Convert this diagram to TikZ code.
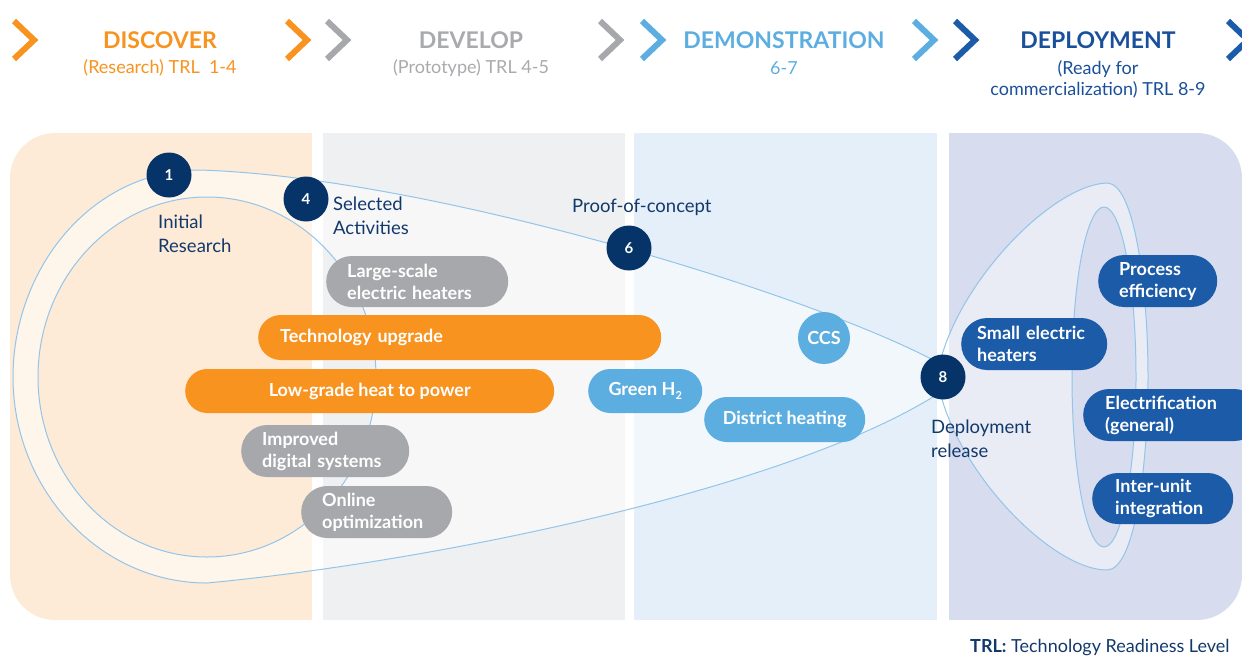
\documentclass[tikz,border=0pt]{standalone}
\usepackage{fontspec}
\setmainfont{Lato}
\definecolor{orangeC}{HTML}{F7931E}
\definecolor{greyC}{HTML}{A7A8AB}
\definecolor{greyT}{HTML}{A9AAAD}
\definecolor{lblueC}{HTML}{5DAEE0}
\definecolor{dblueC}{HTML}{1B5BA8}
\definecolor{dblueT}{HTML}{1A509A}
\definecolor{navyC}{HTML}{063468}
\definecolor{navyT}{HTML}{12396B}
\definecolor{peachC}{HTML}{FDEBD7}
\definecolor{panelG}{HTML}{EFF0F2}
\definecolor{panelB}{HTML}{E5EFF9}
\definecolor{panelL}{HTML}{D7DCEE}
\definecolor{lineC}{HTML}{93C5EA}
\begin{document}
\begin{tikzpicture}[x=1pt,y=-1pt,
  chev/.style={line width=6pt, miter limit=10},
  head/.style={font=\bfseries\fontsize{23}{26}\selectfont, inner sep=0pt},
  sub/.style={font=\fontsize{18}{21}\selectfont, align=center, inner sep=0pt},
  numc/.style={circle, fill=navyC, text=white, minimum size=45pt, inner sep=0pt, font=\bfseries\fontsize{15}{15}\selectfont},
  lab/.style={text=navyT, font=\fontsize{18.5}{24}\selectfont, align=left, anchor=west, inner sep=0pt},
  pillbox/.style={text=white, font=\bfseries\fontsize{18}{22}\selectfont, inner ysep=0pt, anchor=west},
  loopline/.style={draw=lineC, line width=1pt}
]
\useasboundingbox (0,0) rectangle (1242,657);
\begin{scope}
\clip (0,0) rectangle (1242,657);
% panels
\begin{scope}
\clip[rounded corners=45pt] (10,133) rectangle (1242,620);
\fill[peachC] (10,133) rectangle (312,620);
\fill[panelG] (323,133) rectangle (625,620);
\fill[panelB] (634,133) rectangle (937,620);
\fill[panelL] (949,133) rectangle (1242,620);
\end{scope}
% loop
\path[fill=white, fill opacity=0.5, even odd rule]
  (962,377) .. controls (870,313) and (450,178) .. (200,170)
  .. controls (90,170) and (13,270) .. (13,377)
  .. controls (13,490) and (100,583) .. (207,583)
  .. controls (450,560) and (830,480) .. (962,377) -- cycle
  (207,377) ellipse [x radius=169, y radius=180];
\draw[loopline]
  (962,377) .. controls (870,313) and (450,178) .. (200,170)
  .. controls (90,170) and (13,270) .. (13,377)
  .. controls (13,490) and (100,583) .. (207,583)
  .. controls (450,560) and (830,480) .. (962,377) -- cycle;
\draw[loopline] (207,377) ellipse [x radius=169, y radius=180];
% bell
\path[fill=white, fill opacity=0.45, even odd rule]
  (937,377) .. controls (950,290) and (1050,185) .. (1107,183)
  .. controls (1135,183) and (1148,290) .. (1148,377)
  .. controls (1148,465) and (1135,570) .. (1107,570)
  .. controls (1050,570) and (950,465) .. (937,377) -- cycle
  (1104,377) ellipse [x radius=32, y radius=170];
\draw[loopline]
  (937,377) .. controls (950,290) and (1050,185) .. (1107,183)
  .. controls (1135,183) and (1148,290) .. (1148,377)
  .. controls (1148,465) and (1135,570) .. (1107,570)
  .. controls (1050,570) and (950,465) .. (937,377) -- cycle;
\draw[loopline] (1104,377) ellipse [x radius=32, y radius=170];
% chevrons
\draw[chev, orangeC] (14,21) -- (34,40) -- (14,59);
\draw[chev, orangeC] (287,21) -- (307,40) -- (287,59);
\draw[chev, greyC] (327,21) -- (347,40) -- (327,59);
\draw[chev, greyC] (600,21) -- (620,40) -- (600,59);
\draw[chev, lblueC] (642,21) -- (662,40) -- (642,59);
\draw[chev, lblueC] (914,21) -- (934,40) -- (914,59);
\draw[chev, dblueC] (955,21) -- (975,40) -- (955,59);
\draw[chev, dblueC] (1228,21) -- (1248,40) -- (1228,59);
% headers
\node[head, text=orangeC] (hdisc) at (160,40) {DISCOVER};
\node[sub, text=orangeC] (sdisc) at (160,68) {(Research) TRL\ \ 1-4};
\node[head, text=greyT] (hdev) at (471,40) {DEVELOP};
\node[sub, text=greyT] (sdev) at (471,68) {(Prototype) TRL 4-5};
\node[head, text=lblueC] (hdem) at (784,40) {DEMONSTRATION};
\node[sub, text=lblueC] (sdem) at (784,68) {6-7};
\node[head, text=dblueT] (hdep) at (1098,40) {DEPLOYMENT};
\node[sub, text=dblueT, anchor=north] (sdep) at (1098,60) {(Ready for\\commercialization) TRL 8-9};
% milestone circles
\node[numc] (n1) at (169,175) {1};
\node[numc] (n4) at (306,199) {4};
\node[numc] (n6) at (629,248) {6};
\node[numc] (n8) at (943,377) {8};
\node[lab] (l1) at (158,234) {Initial\\Research};
\node[lab] (l4) at (333,216) {Selected\\Activities};
\node[lab] (l6) at (572,207) {Proof-of-concept};
\node[lab] (l8) at (931,439) {Deployment\\release};
% pills
\node[pillbox, fill=greyC, minimum width=182pt, minimum height=51pt, rounded corners=25.5pt, inner xsep=21pt, text width=140pt, align=left] (p1) at (326,281.5) {Large-scale\\electric~heaters};
\node[pillbox, fill=orangeC, minimum width=403pt, minimum height=45pt, rounded corners=22.5pt, inner xsep=22pt, text width=359pt, align=left] (p2) at (258,337.5) {Technology upgrade};
\node[pillbox, fill=orangeC, minimum width=369pt, minimum height=44pt, rounded corners=22pt, align=center] (p3) at (185,391) {Low-grade heat to power};
\node[pillbox, fill=greyC, minimum width=168pt, minimum height=52pt, rounded corners=26pt, inner xsep=21pt, text width=126pt, align=left] (p4) at (241,451) {Improved\\digital~systems};
\node[pillbox, fill=greyC, minimum width=151pt, minimum height=52pt, rounded corners=26pt, inner xsep=21pt, text width=109pt, align=left] (p5) at (301,512) {Online\\optimization};
\node[pillbox, fill=lblueC, minimum width=114pt, minimum height=44pt, rounded corners=22pt, align=center] (p6) at (588,391) {Green H\raisebox{-0.35ex}{\fontsize{11}{11}\selectfont 2}};
\node[circle, fill=lblueC, text=white, minimum size=52pt, inner sep=0pt, font=\bfseries\fontsize{18}{22}\selectfont] (p7) at (824,338) {CCS};
\node[pillbox, fill=lblueC, minimum width=161pt, minimum height=45pt, rounded corners=22.5pt, align=center] (p8) at (704,419.5) {District heating};
\node[pillbox, fill=dblueC, minimum width=146pt, minimum height=52pt, rounded corners=26pt, inner xsep=16pt, text width=114pt, align=left] (p9) at (961,344) {Small~electric\\heaters};
\node[pillbox, fill=dblueC, minimum width=119pt, minimum height=52pt, rounded corners=26pt, inner xsep=21pt, text width=77pt, align=left] (p10) at (1098,281) {Process\\efficiency};
\node[pillbox, fill=dblueC, minimum width=177pt, minimum height=52pt, rounded corners=26pt, inner xsep=22pt, text width=133pt, align=left] (p11) at (1083,415) {Electrification\\(general)};
\node[pillbox, fill=dblueC, minimum width=141pt, minimum height=51pt, rounded corners=25.5pt, inner xsep=23pt, text width=95pt, align=left] (p12) at (1092,498.5) {Inter-unit\\integration};
% footnote
\node[anchor=west, text=navyT, font=\fontsize{18}{20}\selectfont, inner sep=0pt] (trl) at (970,648) {\textbf{TRL:} Technology Readiness Level};
\end{scope}
\end{tikzpicture}
\end{document}
